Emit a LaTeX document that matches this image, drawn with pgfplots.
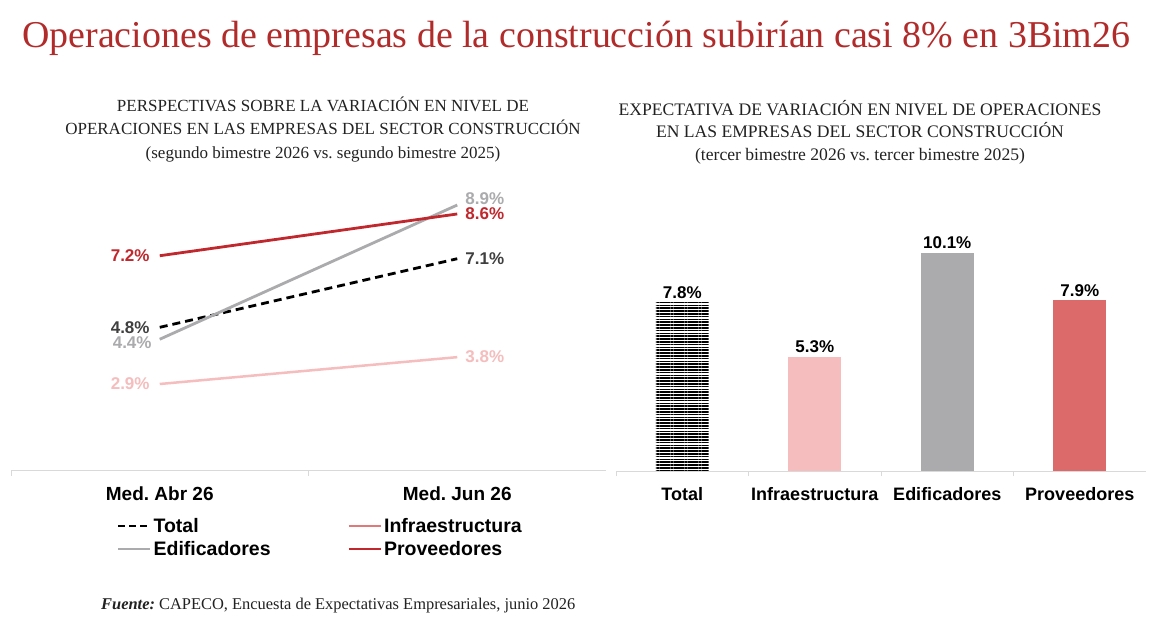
\documentclass[border=0pt]{standalone}
\usepackage{pgfplots}
\pgfplotsset{compat=1.18}
\usepackage{fontspec}
\usepackage{graphicx}
\usetikzlibrary{patterns.meta}
\setmainfont{Liberation Serif}
\newfontfamily\arial{Liberation Sans}
\frenchspacing
\definecolor{titlered}{HTML}{B22B2B}
\definecolor{prov}{HTML}{C0282D}
\definecolor{provbar}{HTML}{DD6A6A}
\definecolor{infra}{HTML}{F5BDBD}
\definecolor{infraleg}{HTML}{E07A7A}
\definecolor{edif}{HTML}{ABAAAD}
\definecolor{darklab}{HTML}{3F3F3F}
\definecolor{axisgray}{HTML}{D9D9D9}
\definecolor{subtxt}{HTML}{222222}

\begin{document}
\begin{tikzpicture}[x=1pt,y=1pt,
  lab/.style={font=\arial\bfseries\fontsize{17}{20}\selectfont, inner sep=0pt}]
\path[use as bounding box, fill=white] (0,0) rectangle (1169,-619);

\node[anchor=base west, inner sep=0pt, text=titlered] at (22,-47)
  {\resizebox{1108pt}{!}{\fontsize{36}{40}\selectfont Operaciones de empresas de la construcción subirían casi 8\% en 3Bim26}};

\node[align=center, inner sep=0pt, text=subtxt, font=\fontsize{17}{23.5}\selectfont] at (323,-129.5)
  {PERSPECTIVAS SOBRE LA VARIACIÓN EN NIVEL DE\\OPERACIONES EN LAS EMPRESAS DEL SECTOR CONSTRUCCIÓN\\(segundo bimestre 2026 vs. segundo bimestre 2025)};

\node[align=center, inner sep=0pt, text=subtxt, font=\fontsize{17.6}{22.5}\selectfont] at (860,-132)
  {EXPECTATIVA DE VARIACIÓN EN NIVEL DE OPERACIONES\\EN LAS EMPRESAS DEL SECTOR CONSTRUCCIÓN\\(tercer bimestre 2026 vs. tercer bimestre 2025)};

\node[anchor=base west, inner sep=0pt, text=subtxt] at (101,-609)
  {\resizebox{474pt}{!}{\fontsize{15}{18}\selectfont\textbf{\textit{Fuente:}} CAPECO, Encuesta de Expectativas Empresariales, junio 2026}};

% ---------- left chart ----------
\begin{axis}[at={(11pt,-470.5pt)}, anchor=south west, scale only axis,
  width=595pt, height=298.3pt,
  xmin=-0.5, xmax=1.5, ymin=0, ymax=10,
  enlarge x limits=false, enlarge y limits=false,
  axis x line*=bottom, axis y line=none,
  axis line style={draw=axisgray, line width=1pt},
  xtick={0,1}, xticklabels={Med. Abr 26, Med. Jun 26},
  major tick length=0pt,
  extra x ticks={-0.5,0.5}, extra x tick labels={},
  extra x tick style={major tick length=5pt, tick align=outside, tick style={draw=axisgray, line width=0.8pt}},
  xticklabel style={font=\arial\bfseries\fontsize{19}{22}\selectfont, yshift=-13pt},
  clip=false,
  legend columns=2,
  legend cell align=left,
  legend style={at={(0.178,-0.155)}, anchor=north west, draw=none, fill=none,
    font=\arial\bfseries\fontsize{19.5}{21}\selectfont,
    /tikz/every even column/.append style={column sep=75pt},
    row sep=5.5pt, inner sep=0pt,
    nodes={inner xsep=2pt, inner ysep=1pt}},
  legend image code/.code={\draw[#1] (0pt,0pt) -- (32pt,0pt);},
]
\addplot[black, line width=2.8pt, dash pattern=on 8pt off 5pt, forget plot] coordinates {(0,4.8) (1,7.1)};
\addplot[infra, line width=2.5pt, forget plot] coordinates {(0,2.9) (1,3.8)};
\addplot[edif, line width=2.8pt, forget plot] coordinates {(0,4.4) (1,8.9)};
\addplot[prov, line width=2.8pt, forget plot] coordinates {(0,7.2) (1,8.6)};
\addlegendimage{black, line width=2.5pt, dash pattern=on 7pt off 4pt}
\addlegendimage{infraleg, line width=2.5pt}
\addlegendimage{edif, line width=2.5pt}
\addlegendimage{prov, line width=2.5pt}
\legend{Total, Infraestructura, Edificadores, Proveedores}

\node[lab, anchor=east, text=prov, xshift=-10pt] at (axis cs:0,7.2) {7.2\%};
\node[lab, anchor=east, text=darklab, xshift=-10pt] at (axis cs:0,4.8) {4.8\%};
\node[lab, anchor=east, text=edif, xshift=-8pt, yshift=-3pt] at (axis cs:0,4.4) {4.4\%};
\node[lab, anchor=east, text=infra, xshift=-10pt] at (axis cs:0,2.9) {2.9\%};
\node[lab, anchor=west, text=edif, xshift=8pt, yshift=6pt] at (axis cs:1,8.9) {8.9\%};
\node[lab, anchor=west, text=prov, xshift=8pt] at (axis cs:1,8.6) {8.6\%};
\node[lab, anchor=west, text=darklab, xshift=8pt] at (axis cs:1,7.1) {7.1\%};
\node[lab, anchor=west, text=infra, xshift=8pt] at (axis cs:1,3.8) {3.8\%};
\end{axis}

% ---------- right chart ----------
\begin{axis}[at={(616pt,-471pt)}, anchor=south west, scale only axis,
  width=530pt, height=237.6pt,
  xmin=-0.5, xmax=3.5, ymin=0, ymax=11,
  enlarge x limits=false, enlarge y limits=false,
  axis x line*=bottom, axis y line=none,
  axis line style={draw=axisgray, line width=1pt},
  xtick={0,1,2,3}, xticklabels={Total,Infraestructura,Edificadores,Proveedores},
  major tick length=0pt,
  extra x ticks={-0.5,0.5,1.5,2.5}, extra x tick labels={},
  extra x tick style={major tick length=5pt, tick align=outside, tick style={draw=axisgray, line width=0.8pt}},
  xticklabel style={font=\arial\bfseries\fontsize{18}{21}\selectfont, yshift=-13pt},
  clip=false,
  ybar, bar width=52.6pt,
  /pgf/number format/assume math mode=true,
  nodes near coords={\pgfmathprintnumber[fixed,fixed zerofill,precision=1]{\pgfplotspointmeta}\%},
  every node near coord/.append style={font=\arial\bfseries\fontsize{17}{20}\selectfont, text=black, inner sep=2pt, yshift=2pt},
]
\addplot[draw=none, bar shift=0pt, pattern={Lines[angle=0,distance=2.8pt,line width=1.6pt]}, pattern color=black] coordinates {(0,7.8)};
\addplot[draw=none, bar shift=0pt, fill=infra] coordinates {(1,5.3)};
\addplot[draw=none, bar shift=0pt, fill=edif] coordinates {(2,10.1)};
\addplot[draw=none, bar shift=0pt, fill=provbar] coordinates {(3,7.9)};
\end{axis}
\end{tikzpicture}
\end{document}
